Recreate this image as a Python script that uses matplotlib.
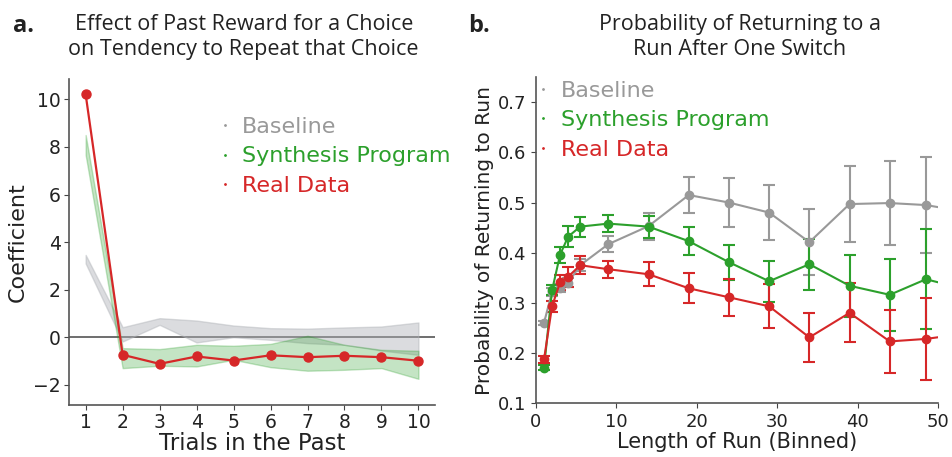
import numpy as np
import matplotlib
matplotlib.use("Agg")
import matplotlib.pyplot as plt

GRAY = "#999999"
GREEN = "#2ca02c"
RED = "#d62728"

# panel a: regression coefficients over past trials
lags = [1, 2, 3, 4, 5, 6, 7, 8, 9, 10]
real_coef = [10.21, -0.74, -1.12, -0.81, -0.98, -0.76, -0.84, -0.78, -0.84, -0.99]
synth_lo = [7.66, -1.30, -1.20, -1.23, -0.95, -1.26, -1.41, -1.37, -1.30, -1.75]
synth_hi = [8.50, -0.46, -0.50, -0.32, -0.36, -0.28, 0.06, -0.32, -0.53, -0.57]
base_lo = [3.10, -0.18, 0.52, -0.22, 0.00, -0.11, -0.25, -0.32, -0.56, -0.74]
base_hi = [3.46, 0.42, 0.80, 0.70, 0.49, 0.38, 0.36, 0.41, 0.45, 0.62]

# panel b: return probability by binned run length
run_len = [1, 2, 3, 4, 5.5, 9, 14, 19, 24, 29, 34, 39, 44, 48.5, 54]
base_p = [0.260, 0.322, 0.330, 0.340, 0.375, 0.417, 0.453, 0.515, 0.500, 0.480, 0.421, 0.497, 0.499, 0.495, 0.480]
base_err = [0.004, 0.008, 0.008, 0.009, 0.012, 0.016, 0.027, 0.036, 0.048, 0.055, 0.066, 0.075, 0.083, 0.096, 0.10]
synth_p = [0.170, 0.325, 0.396, 0.432, 0.452, 0.458, 0.452, 0.423, 0.381, 0.343, 0.377, 0.334, 0.316, 0.347, 0.325]
synth_err = [0.005, 0.010, 0.016, 0.021, 0.020, 0.017, 0.022, 0.028, 0.035, 0.041, 0.051, 0.062, 0.072, 0.100, 0.10]
real_p = [0.187, 0.293, 0.341, 0.352, 0.375, 0.367, 0.357, 0.329, 0.311, 0.293, 0.231, 0.280, 0.223, 0.228, 0.240]
real_err = [0.007, 0.011, 0.015, 0.020, 0.018, 0.017, 0.024, 0.030, 0.037, 0.044, 0.049, 0.059, 0.063, 0.081, 0.09]

labels = ["Baseline", "Synthesis Program", "Real Data"]
colors = [GRAY, GREEN, RED]

plt.rcParams["font.family"] = "DejaVu Sans"
fig = plt.figure(figsize=(9.52, 4.57), dpi=100)
ax1 = fig.add_axes([0.0725, 0.1138, 0.3845, 0.713])
ax2 = fig.add_axes([0.563, 0.118, 0.4223, 0.713])


def add_legend(ax, anchor):
    for lab, c in zip(labels, colors):
        ax.plot([], [], ".", color=c, ms=2, label=lab)
    leg = ax.legend(loc="upper left", bbox_to_anchor=anchor, frameon=False, fontsize=16,
                    handlelength=0.5, handletextpad=0.55, labelspacing=0.42)
    for txt, c in zip(leg.get_texts(), colors):
        txt.set_color(c)


# --- panel a ---
ax1.axhline(0, color="#555555", lw=1.2, zorder=1)
ax1.fill_between(lags, base_lo, base_hi, color="#b0b3b8", alpha=0.45, lw=1, edgecolor="#b0b3b8", zorder=2)
ax1.fill_between(lags, synth_lo, synth_hi, color=GREEN, alpha=0.28, lw=1, edgecolor=GREEN, zorder=3)
ax1.plot(lags, real_coef, color=RED, marker="o", ms=6.5, lw=1.6, zorder=4)
add_legend(ax1, (0.355, 0.945))
ax1.set_xlim(0.55, 10.45)
ax1.set_ylim(-2.85, 10.85)
ax1.set_xticks(lags)
ax1.set_yticks([-2, 0, 2, 4, 6, 8, 10])
ax1.tick_params(labelsize=13.5, color="#444444", labelcolor="#222222", pad=2.5)
ax1.set_xlabel("Trials in the Past", fontsize=16.5, color="#222222", labelpad=0)
ax1.set_ylabel("Coefficient", fontsize=16, color="#222222", labelpad=4)

# --- panel b ---
for p, e, c in zip([base_p, synth_p, real_p], [base_err, synth_err, real_err], colors):
    ax2.errorbar(run_len, p, yerr=e, color=c, marker="o", ms=6, lw=1.5, elinewidth=1.5,
                 capsize=4.5, capthick=1.5)
add_legend(ax2, (-0.045, 1.05))
ax2.set_xlim(0, 50)
ax2.set_ylim(0.1, 0.75)
ax2.set_xticks([0, 10, 20, 30, 40, 50])
ax2.set_yticks([0.1, 0.2, 0.3, 0.4, 0.5, 0.6, 0.7])
ax2.tick_params(labelsize=13, color="#444444", labelcolor="#222222")
ax2.set_xlabel("Length of Run (Binned)", fontsize=15, color="#222222", labelpad=1)
ax2.set_ylabel("Probability of Returning to Run", fontsize=14.5, color="#222222", labelpad=3)

for ax in (ax1, ax2):
    for s in ("top", "right"):
        ax.spines[s].set_visible(False)
    for s in ("left", "bottom"):
        ax.spines[s].set_color("#555555")
        ax.spines[s].set_linewidth(1.2)

# panel titles
fig.text(0.256, 0.97, "Effect of Past Reward for a Choice\non Tendency to Repeat that Choice",
         ha="center", va="top", fontsize=15.5, family="Open Sans", color="#222222", linespacing=1.25)
fig.text(0.014, 0.97, "a.", ha="left", va="top", fontsize=17, family="Open Sans",
         weight="bold", color="#222222")
fig.text(0.777, 0.97, "Probability of Returning to a\nRun After One Switch",
         ha="center", va="top", fontsize=15.5, family="Open Sans", color="#222222", linespacing=1.25)
fig.text(0.492, 0.97, "b.", ha="left", va="top", fontsize=17, family="Open Sans",
         weight="bold", color="#222222")

fig.savefig("out.png", dpi=100)
